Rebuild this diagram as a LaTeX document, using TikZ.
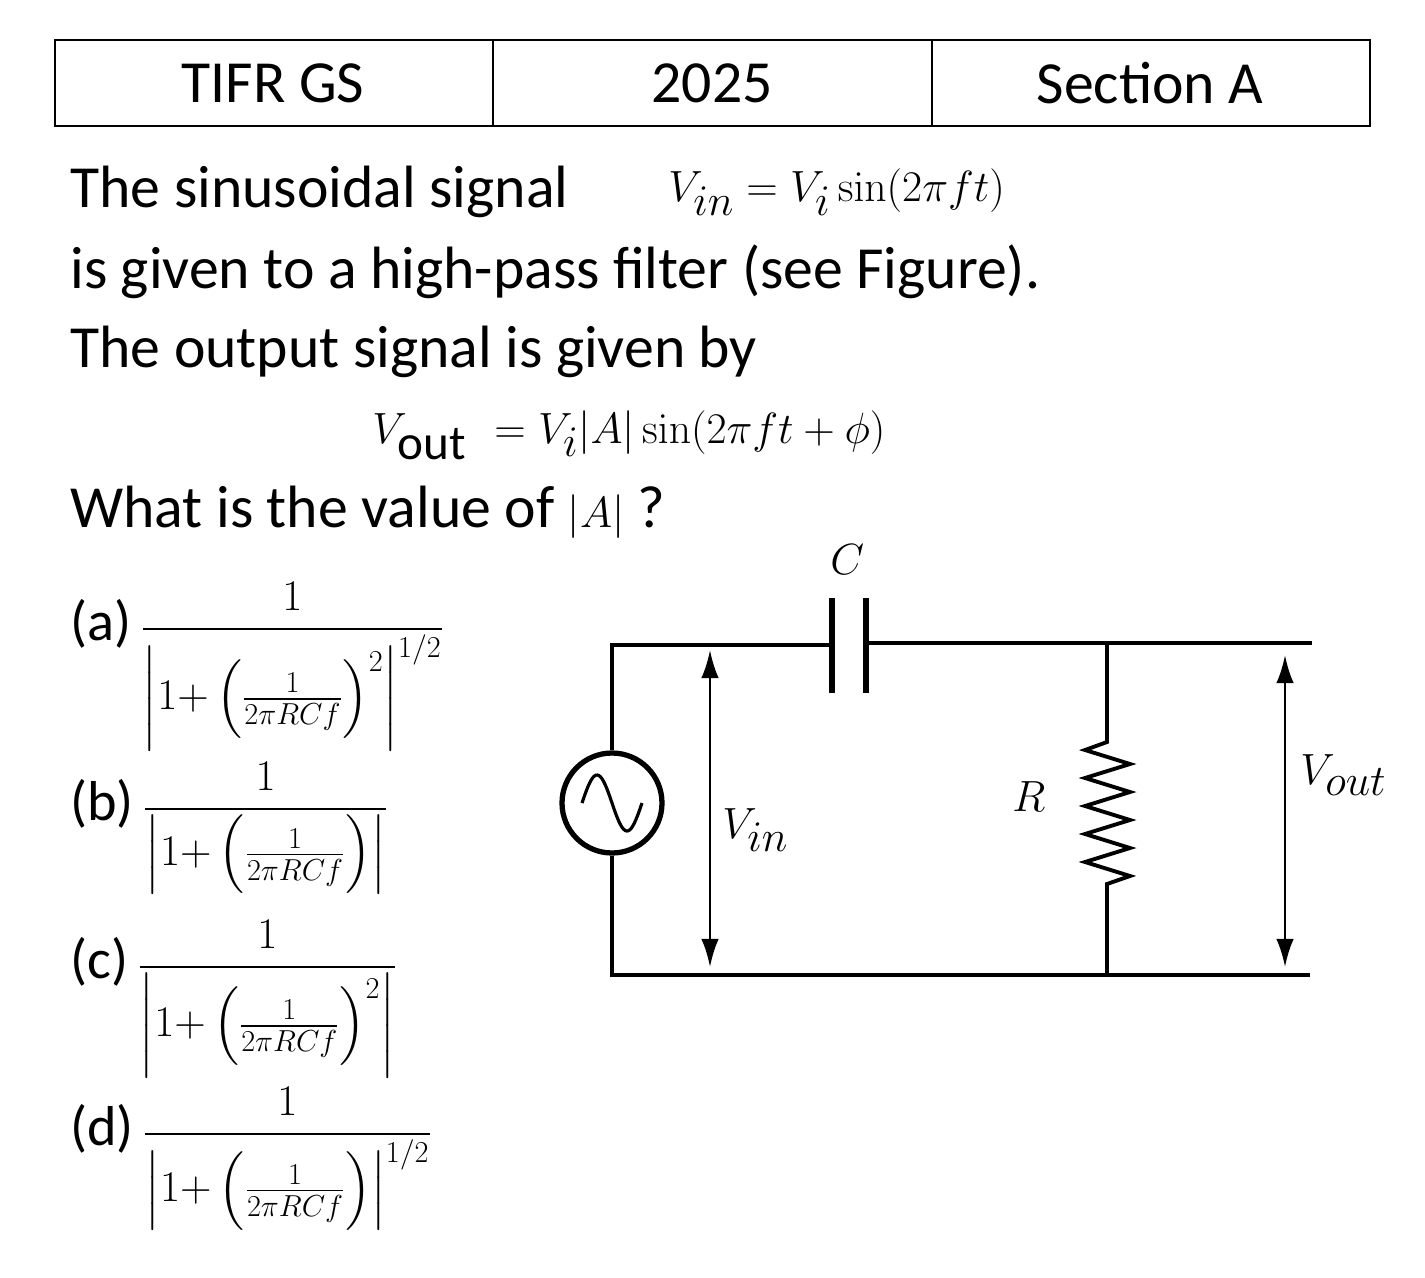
\documentclass[tikz,border=0pt]{standalone}
\usepackage{amsmath}
\usepackage[no-math]{fontspec}
\setmainfont{Carlito}
\usetikzlibrary{positioning,arrows.meta}
\begin{document}
\begin{tikzpicture}[x=0.02cm,y=-0.02cm,
  txt/.style={anchor=west,inner sep=0pt,font=\fontsize{34}{40}\selectfont},
  eqn/.style={anchor=west,inner sep=0pt,font=\fontsize{40}{46}\selectfont},
  opt/.style={anchor=base west,inner sep=0pt,font=\fontsize{32}{38}\selectfont},
  wire/.style={line width=2.2pt},
  meas/.style={line width=1.6pt,{Latex[length=16pt,width=10pt]}-{Latex[length=16pt,width=10pt]}}]
\useasboundingbox (0,0) rectangle (1425,1277);
% header table
\draw[line width=1.2pt] (55,40) rectangle (1370,126);
\draw[line width=1.2pt] (493,40) -- (493,126) (932,40) -- (932,126);
\node[txt,anchor=center] (h1) at (273,83) {TIFR GS};
\node[txt,anchor=center] (h2) at (712,83) {2025};
\node[txt,anchor=center] (h3) at (1150,83) {Section A};
% question text
\node[txt] (l1) at (70,192) {The sinusoidal signal};
\node[eqn] (e1) at (668,192) {$V_{in}=V_i\sin(2\pi f t)$};
\node[txt] (l2) at (70,272) {is given to a high-pass filter (see Figure).};
\node[txt] (l3) at (70,352) {The output signal is given by};
\node[eqn] (e2) at (372,435) {$V_{\text{out}}\ =V_i|A|\sin(2\pi f t+\phi)$};
\node[txt] (l4) at (70,512) {What is the value of \fontsize{40}{46}\selectfont$|A|$\fontsize{34}{40}\selectfont\ ?};
% options
\node[opt] (oa) at (70,640) {(a)\,\fontsize{26}{30}\selectfont$\dfrac{1}{\left|1{+}\left(\frac{1}{2\pi RCf}\right)^{2}\right|^{1/2}}$};
\node[opt] (ob) at (70,820) {(b)\,\fontsize{26}{30}\selectfont$\dfrac{1}{\left|1{+}\left(\frac{1}{2\pi RCf}\right)\right|}$};
\node[opt] (oc) at (70,978) {(c)\,\fontsize{26}{30}\selectfont$\dfrac{1}{\left|1{+}\left(\frac{1}{2\pi RCf}\right)^{2}\right|}$};
\node[opt] (od) at (70,1145) {(d)\,\fontsize{26}{30}\selectfont$\dfrac{1}{\left|1{+}\left(\frac{1}{2\pi RCf}\right)\right|^{1/2}}$};
% circuit
\coordinate (tl) at (612,645);
\coordinate (bl) at (612,975);
\coordinate (tr) at (1312,643);
\coordinate (br) at (1310,975);
\coordinate (ca) at (832,645);
\coordinate (cb) at (866,643);
\coordinate (rt) at (1107,643);
\coordinate (rb) at (1107,975);
\node[draw,circle,line width=3pt,inner sep=0pt,minimum size=2cm] (src) at (612,803) {};
\draw[line width=1.8pt,smooth] plot[domain=-1:1,samples=40] ({612+30*\x},{803+28*sin(180*\x)});
\draw[wire] (src.north) -- (tl) -- (ca);
\draw[wire] (cb) -- (tr);
\draw[wire] (src.south) -- (bl) -- (br);
\draw[line width=3pt] (832,598) -- (832,693) (866,598) -- (866,693);
\draw[wire] (rt) -- (1107,742) -- (1085,750) -- (1130,764) -- (1085,778) -- (1130,792) -- (1085,806) -- (1130,820) -- (1085,834) -- (1130,848) -- (1085,862) -- (1130,876) -- (1107,884) -- (rb);
\coordinate (vi1) at (710,650);
\coordinate (vi2) at (710,967);
\coordinate (vo1) at (1285,655);
\coordinate (vo2) at (1285,967);
\draw[meas] (vi1) -- (vi2);
\draw[meas] (vo1) -- (vo2);
\node[eqn] (lc) at (830,560) {$C$};
\node[eqn] (lr) at (1012,797) {$R$};
\node[eqn] (lvi) at (722,830) {$V_{in}$};
\node[eqn] (lvo) at (1300,775) {$V_{out}$};
\end{tikzpicture}
\end{document}
